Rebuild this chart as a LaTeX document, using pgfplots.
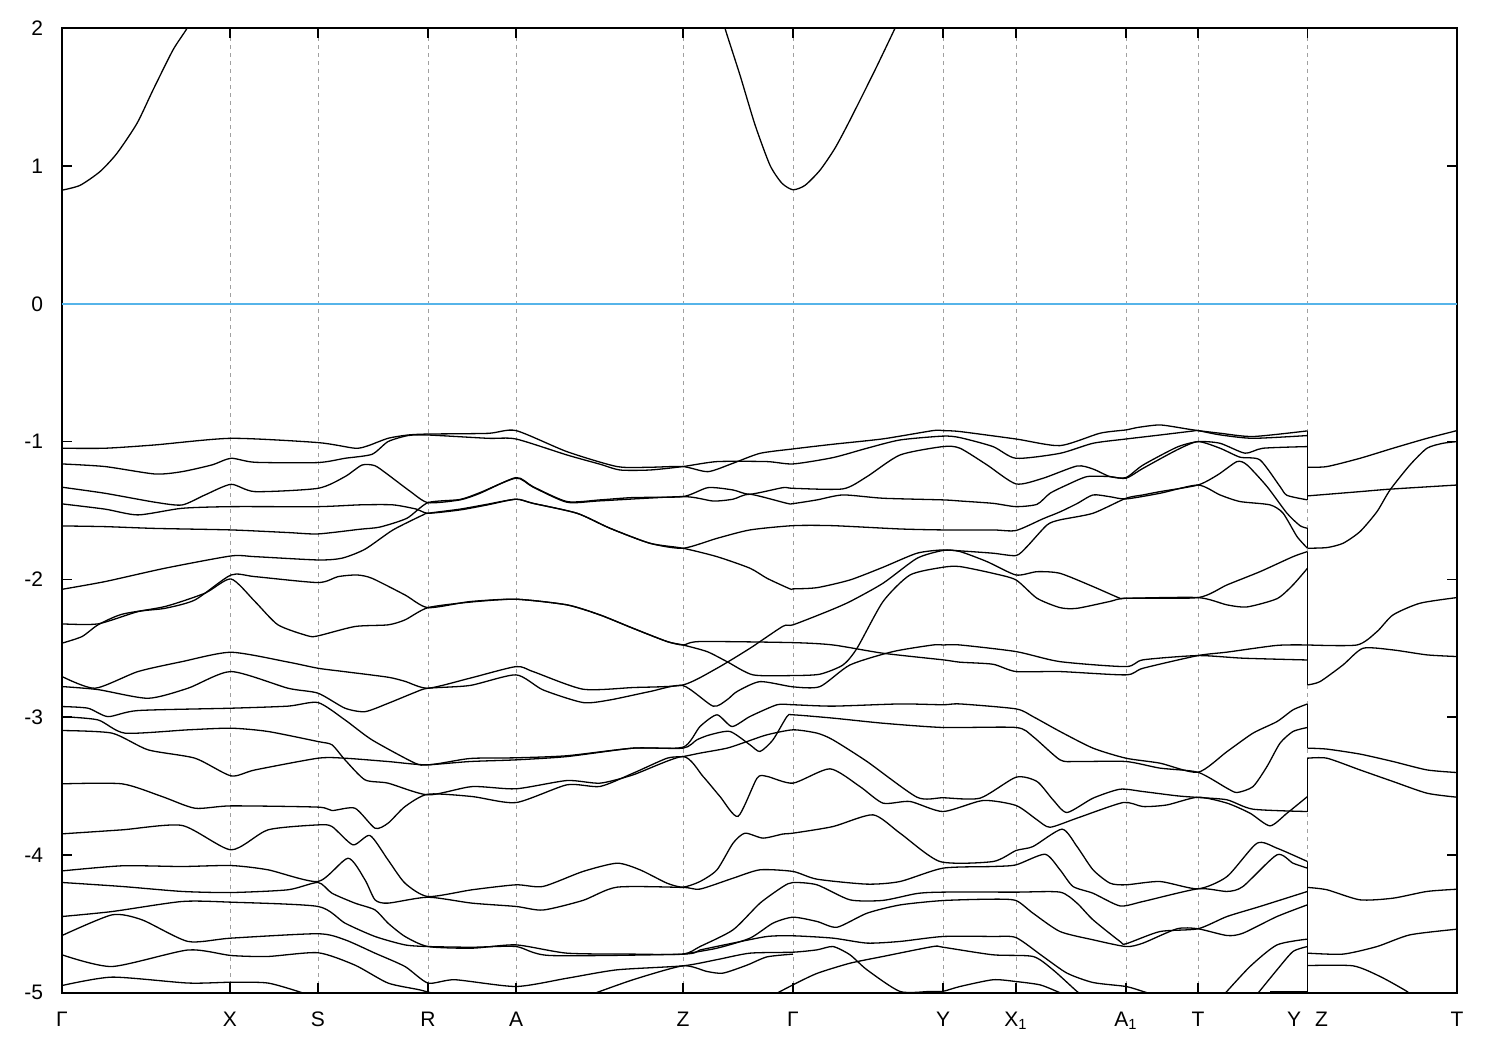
\documentclass[border=0pt]{standalone}
\usepackage{fontspec}
\setmainfont{Liberation Sans}
\usepackage{pgfplots}
\pgfplotsset{compat=1.18}
\definecolor{fermi}{RGB}{86,180,233}
\definecolor{gridgray}{RGB}{160,160,160}
\begin{document}
\begin{tikzpicture}
\path[use as bounding box] (0,0) rectangle (750pt,525pt);
\begin{axis}[
  at={(31pt,28.65pt)}, anchor=south west,
  scale only axis, width=697.5pt, height=482.2pt,
  xmin=62, xmax=1457, ymin=-5, ymax=2,
  xtick={62,230,318,428,516,683,793,943,1016,1126,1198,1307.5,1457},
  xticklabels={Γ,X,S,R,A,Z,Γ,Y,X\textsubscript{1},A\textsubscript{1},T,Y\hspace{7pt}Z,T},
  ytick={-5,-4,-3,-2,-1,0,1,2},
  yticklabels={-5,-4,-3,-2,-1,0,1,2},
  xmajorgrids,
  grid style={gridgray, line width=0.4pt, dash pattern=on 2pt off 2pt},
  tick align=inside,
  major tick length=5pt,
  every tick/.style={black, line width=0.8pt},
  axis line style={line width=0.9pt},
  tick label style={font=\fontsize{10.5}{12}\selectfont},
  xticklabel style={yshift=-6pt},
  yticklabel style={xshift=-6pt},
  cycle list={{black,solid,mark=none}},
  every axis plot/.append style={line width=0.65pt, mark=none, smooth, tension=0.4},
]
% Fermi level
\addplot[fermi, line width=0.7pt, sharp plot] coordinates {(62,0) (1457,0)};
% conduction band
\addplot coordinates {(62,0.825)(80,0.86)(100,0.96)(117,1.093)(137,1.31)(153,1.552)(173,1.843)(187,2.0)(192,2.1)};
\addplot coordinates {(720,2.15)(725,2.0)(740,1.66)(755,1.3)(770,1.006)(782,0.875)(793,0.828)(805,0.86)(820,0.97)(835,1.13)(850,1.334)(875,1.697)(895,2.0)(900,2.08)};
% valence bands Gamma -> Y
\addplot coordinates {(62,-1.048)(105,-1.048)(155,-1.024)(231,-0.976)(318,-1.007)(355,-1.048)(368,-1.03)(388,-0.976)(408,-0.952)(428,-0.945)(488,-0.94)(516,-0.92)(567,-1.073)(617,-1.181)(650,-1.186)(683,-1.181)(708,-1.218)(733,-1.157)(760,-1.085)(793,-1.053)(833,-1.019)(883,-0.98)(933,-0.92)(943,-0.92)(960,-0.927)(1016,-0.981)(1060,-1.029)(1100,-0.939)(1126,-0.915)(1137,-0.898)(1160,-0.879)(1187,-0.908)(1198,-0.92)(1220,-0.939)(1253,-0.963)(1307.5,-0.922)};
\addplot coordinates {(62,-1.162)(105,-1.181)(155,-1.235)(182,-1.218)(212,-1.169)(231,-1.121)(255,-1.15)(318,-1.152)(345,-1.121)(372,-1.092)(388,-1.0)(408,-0.956)(428,-0.952)(488,-0.976)(516,-0.981)(567,-1.097)(600,-1.164)(620,-1.206)(650,-1.206)(683,-1.181)(717,-1.145)(767,-1.145)(793,-1.162)(833,-1.116)(867,-1.048)(900,-0.988)(943,-0.96)(960,-0.971)(993,-1.036)(1016,-1.121)(1060,-1.085)(1093,-1.012)(1126,-0.981)(1160,-0.952)(1193,-0.923)(1198,-0.92)(1220,-0.951)(1253,-0.976)(1307.5,-0.956)};
\addplot coordinates {(62,-1.331)(105,-1.375)(155,-1.44)(182,-1.46)(205,-1.387)(231,-1.31)(255,-1.363)(318,-1.339)(345,-1.254)(362,-1.17)(375,-1.175)(388,-1.24)(410,-1.36)(428,-1.443)(460,-1.423)(480,-1.375)(516,-1.261)(533,-1.327)(567,-1.435)(600,-1.423)(633,-1.406)(683,-1.399)(708,-1.334)(733,-1.351)(750,-1.382)(783,-1.334)(793,-1.339)(843,-1.343)(867,-1.254)(900,-1.097)(943,-1.036)(960,-1.048)(987,-1.169)(1016,-1.307)(1043,-1.266)(1077,-1.177)(1093,-1.199)(1110,-1.254)(1126,-1.261)(1143,-1.17)(1177,-1.04)(1198,-1.0)(1220,-1.012)(1245,-1.084)(1263,-1.048)(1307.5,-1.036)};
\addplot coordinates {(62,-1.452)(105,-1.49)(138,-1.532)(182,-1.484)(231,-1.472)(318,-1.472)(360,-1.459)(393,-1.459)(417,-1.491)(428,-1.52)(460,-1.496)(487,-1.46)(516,-1.418)(533,-1.448)(577,-1.52)(610,-1.629)(650,-1.738)(683,-1.774)(717,-1.702)(750,-1.641)(793,-1.61)(833,-1.61)(900,-1.634)(943,-1.641)(993,-1.641)(1016,-1.645)(1043,-1.56)(1060,-1.51)(1077,-1.45)(1093,-1.387)(1110,-1.40)(1126,-1.416)(1160,-1.375)(1198,-1.315)(1220,-1.387)(1240,-1.435)(1270,-1.459)(1283,-1.519)(1297,-1.689)(1307.5,-1.774)};
\addplot coordinates {(62,-1.612)(105,-1.617)(155,-1.63)(231,-1.641)(288,-1.66)(318,-1.67)(360,-1.636)(380,-1.62)(407,-1.556)(428,-1.443)(460,-1.42)(480,-1.37)(516,-1.265)(533,-1.33)(567,-1.44)(600,-1.43)(683,-1.399)(713,-1.431)(733,-1.418)(750,-1.382)(787,-1.448)(793,-1.45)(817,-1.423)(843,-1.387)(883,-1.411)(943,-1.423)(960,-1.431)(993,-1.448)(1016,-1.472)(1037,-1.455)(1050,-1.375)(1067,-1.314)(1087,-1.254)(1110,-1.254)(1126,-1.266)(1143,-1.194)(1177,-1.06)(1198,-1.0)(1220,-1.048)(1240,-1.113)(1260,-1.133)(1280,-1.326)(1287,-1.39)(1307.5,-1.423)};
\addplot coordinates {(62,-2.072)(105,-2.016)(165,-1.919)(231,-1.83)(255,-1.835)(318,-1.859)(342,-1.846)(365,-1.781)(393,-1.641)(423,-1.532)(428,-1.52)(460,-1.49)(487,-1.455)(516,-1.418)(533,-1.448)(577,-1.52)(610,-1.629)(650,-1.738)(683,-1.774)(717,-1.835)(750,-1.919)(767,-1.992)(790,-2.069)(793,-2.069)(817,-2.06)(850,-2.004)(883,-1.912)(917,-1.81)(943,-1.786)(960,-1.798)(987,-1.871)(1016,-1.968)(1037,-1.944)(1060,-1.956)(1093,-2.052)(1120,-2.137)(1126,-2.137)(1198,-2.132)(1227,-2.185)(1247,-2.2)(1277,-2.14)(1293,-2.04)(1307.5,-1.919)};
\addplot coordinates {(62,-2.323)(98,-2.323)(138,-2.234)(165,-2.21)(195,-2.149)(231,-1.968)(255,-1.98)(318,-2.023)(338,-1.98)(357,-1.968)(372,-1.992)(405,-2.113)(428,-2.205)(470,-2.161)(516,-2.144)(567,-2.185)(600,-2.258)(633,-2.355)(667,-2.451)(683,-2.476)(700,-2.451)(793,-2.459)(833,-2.476)(883,-2.536)(943,-2.584)(960,-2.601)(993,-2.616)(1016,-2.669)(1060,-2.669)(1126,-2.693)(1143,-2.645)(1198,-2.553)(1227,-2.528)(1277,-2.479)(1307.5,-2.476)};
\addplot coordinates {(62,-2.463)(82,-2.415)(98,-2.33)(122,-2.253)(165,-2.197)(205,-2.10)(231,-1.997)(255,-2.161)(278,-2.33)(308,-2.41)(318,-2.41)(355,-2.342)(388,-2.33)(405,-2.294)(428,-2.205)(470,-2.165)(516,-2.144)(567,-2.185)(600,-2.258)(633,-2.355)(667,-2.451)(683,-2.476)(707,-2.524)(727,-2.597)(753,-2.693)(793,-2.698)(820,-2.688)(843,-2.621)(857,-2.5)(883,-2.161)(910,-1.968)(943,-1.912)(960,-1.907)(993,-1.956)(1016,-2.004)(1037,-2.137)(1060,-2.205)(1077,-2.21)(1110,-2.16)(1126,-2.137)(1198,-2.132)(1227,-2.04)(1260,-1.944)(1293,-1.835)(1307.5,-1.798)};
\addplot coordinates {(62,-2.705)(95,-2.79)(138,-2.669)(182,-2.597)(231,-2.529)(288,-2.60)(318,-2.645)(345,-2.67)(388,-2.71)(405,-2.74)(428,-2.79)(470,-2.717)(516,-2.633)(533,-2.669)(583,-2.797)(633,-2.785)(683,-2.766)(717,-2.645)(750,-2.5)(783,-2.34)(793,-2.33)(827,-2.234)(850,-2.161)(883,-2.028)(917,-1.847)(943,-1.79)(960,-1.793)(993,-1.81)(1016,-1.827)(1027,-1.762)(1047,-1.605)(1060,-1.568)(1093,-1.52)(1126,-1.411)(1143,-1.387)(1160,-1.363)(1198,-1.315)(1218,-1.24)(1237,-1.145)(1247,-1.169)(1267,-1.326)(1287,-1.52)(1300,-1.61)(1307.5,-1.629)};
\addplot coordinates {(62,-2.778)(98,-2.80)(148,-2.863)(188,-2.79)(231,-2.669)(288,-2.79)(318,-2.826)(345,-2.935)(365,-2.96)(388,-2.90)(415,-2.82)(428,-2.79)(470,-2.77)(516,-2.693)(543,-2.802)(583,-2.894)(610,-2.875)(650,-2.814)(683,-2.771)(713,-2.92)(727,-2.874)(737,-2.814)(760,-2.742)(793,-2.78)(820,-2.778)(850,-2.621)(893,-2.524)(933,-2.476)(943,-2.476)(960,-2.476)(1016,-2.524)(1060,-2.597)(1126,-2.633)(1143,-2.584)(1198,-2.553)(1243,-2.572)(1307.5,-2.585)};
\addplot coordinates {(62,-2.923)(88,-2.935)(108,-2.996)(138,-2.952)(231,-2.935)(288,-2.92)(318,-2.894)(345,-3.02)(372,-3.165)(415,-3.334)(428,-3.346)(470,-3.322)(516,-3.31)(567,-3.286)(633,-3.225)(683,-3.218)(700,-3.068)(717,-2.983)(732,-3.068)(750,-2.995)(777,-2.91)(793,-2.91)(833,-2.92)(900,-2.904)(943,-2.91)(960,-2.904)(1016,-2.94)(1033,-2.996)(1060,-3.104)(1093,-3.225)(1126,-3.298)(1160,-3.334)(1198,-3.40)(1227,-3.25)(1253,-3.116)(1277,-3.032)(1293,-2.947)(1307.5,-2.904)};
\addplot coordinates {(62,-2.996)(98,-3.02)(125,-3.116)(188,-3.092)(231,-3.08)(268,-3.104)(318,-3.177)(332,-3.201)(345,-3.31)(365,-3.455)(388,-3.479)(428,-3.564)(472,-3.504)(516,-3.52)(567,-3.46)(600,-3.479)(633,-3.419)(683,-3.286)(703,-3.43)(720,-3.576)(738,-3.72)(757,-3.443)(767,-3.43)(793,-3.479)(830,-3.375)(860,-3.504)(883,-3.624)(910,-3.612)(943,-3.685)(983,-3.605)(1016,-3.641)(1037,-3.745)(1050,-3.799)(1077,-3.733)(1123,-3.62)(1143,-3.649)(1167,-3.637)(1198,-3.581)(1227,-3.624)(1250,-3.697)(1270,-3.789)(1287,-3.697)(1307.5,-3.576)};
\addplot coordinates {(62,-3.097)(112,-3.116)(148,-3.237)(195,-3.298)(231,-3.426)(255,-3.383)(318,-3.298)(345,-3.298)(388,-3.322)(428,-3.346)(470,-3.30)(516,-3.295)(567,-3.28)(633,-3.225)(683,-3.225)(697,-3.164)(710,-3.128)(730,-3.104)(750,-3.201)(760,-3.249)(773,-3.164)(787,-2.995)(793,-2.983)(833,-3.007)(883,-3.044)(943,-3.075)(1016,-3.075)(1033,-3.141)(1060,-3.31)(1077,-3.322)(1126,-3.322)(1160,-3.37)(1198,-3.40)(1227,-3.516)(1237,-3.547)(1253,-3.504)(1267,-3.358)(1280,-3.189)(1293,-3.104)(1307.5,-3.075)};
\addplot coordinates {(62,-3.484)(122,-3.484)(162,-3.576)(195,-3.661)(231,-3.644)(318,-3.653)(332,-3.678)(355,-3.661)(375,-3.806)(388,-3.77)(405,-3.649)(428,-3.559)(472,-3.576)(516,-3.62)(567,-3.491)(600,-3.503)(633,-3.407)(667,-3.298)(683,-3.286)(700,-3.261)(727,-3.225)(747,-3.177)(767,-3.128)(793,-3.092)(817,-3.116)(833,-3.165)(867,-3.322)(917,-3.581)(943,-3.585)(980,-3.588)(1016,-3.436)(1037,-3.467)(1053,-3.6)(1067,-3.692)(1093,-3.588)(1120,-3.523)(1143,-3.54)(1177,-3.571)(1198,-3.583)(1227,-3.6)(1253,-3.668)(1307.5,-3.685)};
\addplot coordinates {(62,-3.847)(122,-3.818)(182,-3.786)(231,-3.963)(268,-3.818)(318,-3.782)(332,-3.794)(353,-3.927)(370,-3.859)(388,-4.036)(405,-4.205)(428,-4.302)(472,-4.253)(516,-4.217)(543,-4.229)(583,-4.12)(617,-4.06)(640,-4.108)(667,-4.205)(683,-4.234)(700,-4.193)(717,-4.108)(733,-3.915)(745,-3.842)(763,-3.878)(783,-3.848)(793,-3.842)(833,-3.794)(873,-3.709)(900,-3.842)(940,-4.048)(993,-4.048)(1016,-3.968)(1033,-3.939)(1062,-3.813)(1077,-3.939)(1093,-4.108)(1110,-4.205)(1126,-4.217)(1160,-4.193)(1198,-4.246)(1227,-4.157)(1257,-3.915)(1277,-3.951)(1307.5,-4.048)};
\addplot coordinates {(62,-4.116)(122,-4.079)(182,-4.084)(231,-4.077)(268,-4.108)(318,-4.193)(348,-4.024)(365,-4.181)(375,-4.326)(388,-4.35)(428,-4.307)(472,-4.35)(516,-4.374)(543,-4.40)(583,-4.33)(617,-4.234)(683,-4.236)(700,-4.248)(733,-4.169)(760,-4.108)(793,-4.12)(817,-4.176)(867,-4.212)(900,-4.193)(943,-4.096)(993,-4.084)(1016,-4.072)(1045,-3.995)(1060,-4.108)(1073,-4.229)(1093,-4.278)(1120,-4.37)(1143,-4.338)(1198,-4.246)(1227,-4.265)(1243,-4.229)(1277,-3.999)(1293,-4.06)(1307.5,-4.096)};
\addplot coordinates {(62,-4.2)(122,-4.229)(182,-4.265)(231,-4.273)(288,-4.253)(318,-4.2)(332,-4.278)(355,-4.35)(375,-4.399)(388,-4.495)(405,-4.592)(428,-4.665)(472,-4.677)(516,-4.653)(567,-4.713)(633,-4.72)(683,-4.72)(700,-4.665)(733,-4.544)(760,-4.35)(783,-4.23)(793,-4.2)(817,-4.217)(850,-4.326)(883,-4.33)(917,-4.28)(943,-4.27)(1016,-4.27)(1060,-4.27)(1077,-4.35)(1093,-4.471)(1120,-4.628)(1126,-4.645)(1160,-4.556)(1198,-4.536)(1227,-4.447)(1260,-4.374)(1307.5,-4.265)};
\addplot coordinates {(62,-4.447)(112,-4.411)(182,-4.338)(231,-4.343)(318,-4.374)(345,-4.495)(375,-4.592)(405,-4.653)(428,-4.665)(472,-4.67)(516,-4.665)(550,-4.73)(683,-4.72)(700,-4.69)(733,-4.64)(767,-4.592)(793,-4.587)(833,-4.604)(867,-4.64)(900,-4.628)(943,-4.592)(993,-4.592)(1016,-4.6)(1043,-4.737)(1067,-4.858)(1093,-4.926)(1126,-4.955)(1143,-4.991)(1160,-5.03)};
\addplot coordinates {(62,-4.585)(112,-4.435)(142,-4.471)(188,-4.628)(231,-4.604)(318,-4.572)(345,-4.616)(375,-4.713)(405,-4.81)(428,-4.93)(455,-4.906)(516,-4.955)(567,-4.895)(617,-4.834)(683,-4.805)(717,-4.76)(750,-4.713)(793,-4.706)(817,-4.689)(833,-4.665)(850,-4.725)(867,-4.834)(900,-4.991)(930,-4.991)(943,-4.99)(960,-4.955)(993,-4.906)(1016,-4.919)(1040,-4.943)(1057,-4.991)(1070,-5.03)};
\addplot coordinates {(62,-4.725)(112,-4.81)(188,-4.69)(231,-4.73)(268,-4.737)(318,-4.71)(355,-4.8)(388,-4.93)(420,-4.98)(445,-5.03)};
\addplot coordinates {(62,-4.948)(112,-4.887)(188,-4.93)(231,-4.924)(268,-4.93)(302,-5.0)(310,-5.03)};
\addplot coordinates {(683,-4.72)(717,-4.677)(750,-4.604)(773,-4.495)(793,-4.452)(817,-4.483)(837,-4.525)(867,-4.423)(900,-4.363)(943,-4.331)(993,-4.321)(1016,-4.331)(1033,-4.423)(1060,-4.556)(1093,-4.616)(1126,-4.665)(1143,-4.64)(1177,-4.536)(1198,-4.536)(1227,-4.585)(1243,-4.568)(1277,-4.447)(1307.5,-4.362)};
\addplot coordinates {(770,-5.03)(793,-4.943)(817,-4.86)(850,-4.786)(883,-4.737)(933,-4.665)(943,-4.67)(993,-4.725)(1033,-4.737)(1053,-4.834)(1077,-4.991)(1085,-5.03)};
\addplot coordinates {(585,-5.03)(633,-4.906)(683,-4.805)(707,-4.846)(723,-4.858)(747,-4.80)(767,-4.74)(793,-4.72)};
\addplot coordinates {(1222,-5.03)(1250,-4.81)(1277,-4.653)(1307.5,-4.611)};
\addplot coordinates {(1255,-5.03)(1277,-4.834)(1293,-4.701)(1307.5,-4.665)};
\addplot coordinates {(1270,-4.991)(1307.5,-4.991)};
% jumps at Y|Z
\addplot[sharp plot] coordinates {(1307.5,-0.922)(1307.5,-1.423)};
\addplot[sharp plot] coordinates {(1307.5,-1.629)(1307.5,-1.774)};
\addplot[sharp plot] coordinates {(1307.5,-1.798)(1307.5,-2.766)};
\addplot[sharp plot] coordinates {(1307.5,-2.904)(1307.5,-3.225)};
\addplot[sharp plot] coordinates {(1307.5,-3.298)(1307.5,-3.685)};
\addplot[sharp plot] coordinates {(1307.5,-4.048)(1307.5,-5.03)};
% Z -> T
\addplot coordinates {(1307.5,-1.186)(1327,-1.181)(1360,-1.121)(1393,-1.048)(1427,-0.976)(1457,-0.92)};
\addplot coordinates {(1307.5,-1.394)(1360,-1.363)(1390,-1.345)(1457,-1.315)};
\addplot coordinates {(1307.5,-1.774)(1327,-1.769)(1343,-1.738)(1360,-1.653)(1377,-1.508)(1390,-1.351)(1410,-1.169)(1427,-1.048)(1443,-1.012)(1457,-1.0)};
\addplot coordinates {(1307.5,-2.476)(1357,-2.476)(1377,-2.379)(1393,-2.258)(1420,-2.173)(1457,-2.132)};
\addplot coordinates {(1307.5,-2.766)(1320,-2.742)(1343,-2.621)(1363,-2.5)(1393,-2.512)(1427,-2.548)(1457,-2.56)};
\addplot coordinates {(1307.5,-3.225)(1327,-3.232)(1360,-3.268)(1393,-3.322)(1427,-3.383)(1457,-3.402)};
\addplot coordinates {(1307.5,-3.298)(1327,-3.298)(1360,-3.383)(1393,-3.467)(1427,-3.552)(1457,-3.581)};
\addplot coordinates {(1307.5,-4.236)(1327,-4.253)(1360,-4.326)(1393,-4.314)(1427,-4.265)(1457,-4.249)};
\addplot coordinates {(1307.5,-4.713)(1343,-4.72)(1377,-4.665)(1410,-4.58)(1457,-4.539)};
\addplot coordinates {(1307.5,-4.803)(1353,-4.805)(1380,-4.882)(1407,-4.991)(1412,-5.03)};
\end{axis}
\end{tikzpicture}
\end{document}
